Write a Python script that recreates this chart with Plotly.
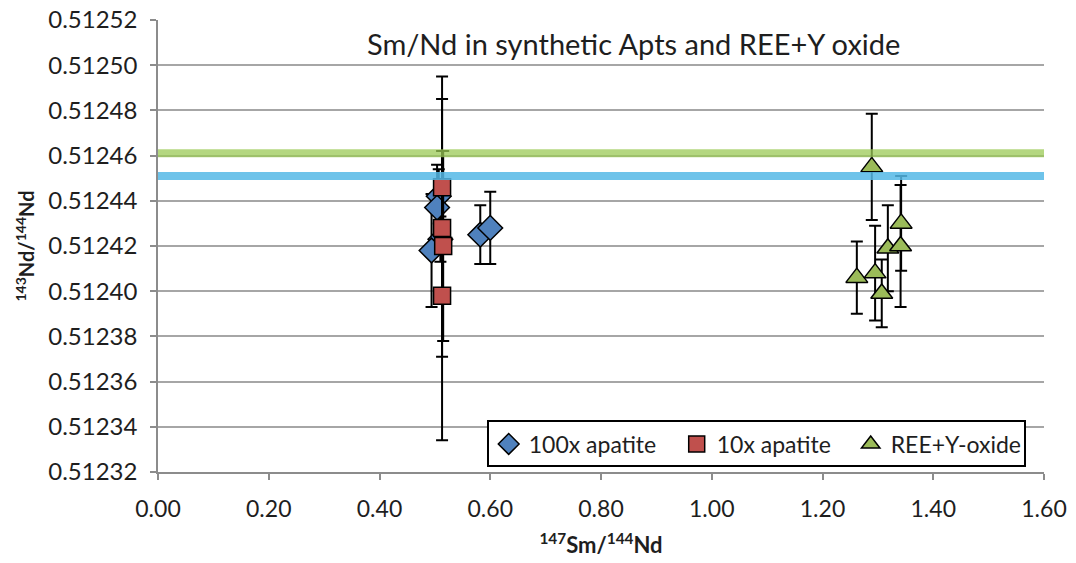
import plotly.graph_objects as go

# 100x apatite (diamonds)
apt100_x = [0.507, 0.504, 0.510, 0.494, 0.582, 0.600]
apt100_y = [0.512442, 0.512437, 0.512423, 0.512418, 0.512425, 0.512428]
apt100_err = [0.000012, 0.000019, 0.000010, 0.000025, 0.000013, 0.000016]

# 10x apatite (squares)
apt10_x = [0.513, 0.513, 0.515, 0.513]
apt10_y = [0.512446, 0.512428, 0.512420, 0.512398]
apt10_err = [0.000049, 0.000057, 0.000042, 0.000064]

# REE+Y oxide (triangles)
ree_x = [1.289, 1.262, 1.295, 1.307, 1.318, 1.342, 1.341]
ree_y = [0.512455, 0.512406, 0.512408, 0.512399, 0.512419, 0.512430, 0.512420]
ree_err = [0.0000235, 0.000016, 0.000021, 0.000015, 0.000019, 0.000021, 0.000027]

# Reference ratio lines
line_x = [0.0, 1.6]
green_ref = 0.512461
blue_ref = 0.512451

FONT = "Lato"
TXT = "#1e1e1e"
err_style = dict(type="data", visible=True, color="black", thickness=2, width=6)

fig = go.Figure()

fig.add_trace(go.Scatter(
    x=apt100_x, y=apt100_y, mode="markers", name="100x apatite",
    legendwidth=143,
    marker=dict(symbol="diamond", size=19, color="#4F81BD",
                line=dict(color="black", width=1.5)),
    error_y=dict(array=apt100_err, **err_style),
))
fig.add_trace(go.Scatter(
    x=apt10_x, y=apt10_y, mode="markers", name="10x apatite",
    legendwidth=129,
    marker=dict(symbol="square", size=17, color="#C0504D",
                line=dict(color="black", width=1.5)),
    error_y=dict(array=apt10_err, **err_style),
))
fig.add_trace(go.Scatter(
    x=ree_x, y=ree_y, mode="markers", name="REE+Y-oxide",
    legendwidth=128,
    marker=dict(symbol="triangle-up", size=19, color="#9BBB59",
                line=dict(color="black", width=1.5)),
    error_y=dict(array=ree_err, **err_style),
))

fig.add_trace(go.Scatter(
    x=line_x, y=[green_ref, green_ref], mode="lines", showlegend=False,
    line=dict(color="rgba(155,202,85,0.75)", width=8), hoverinfo="skip",
))
fig.add_trace(go.Scatter(
    x=line_x, y=[blue_ref, blue_ref], mode="lines", showlegend=False,
    line=dict(color="rgba(85,185,230,0.85)", width=8), hoverinfo="skip",
))

fig.add_annotation(
    x=0.537, y=0.947, xref="paper", yref="paper", yanchor="middle",
    text="Sm/Nd in synthetic Apts and REE+Y oxide", showarrow=False,
    font=dict(family=FONT, size=29, color=TXT),
)

fig.update_layout(
    width=1076, height=563,
    margin=dict(l=158, r=32, t=20, b=91),
    paper_bgcolor="white", plot_bgcolor="white",
    font=dict(family=FONT, color=TXT),
    showlegend=True,
    legend=dict(
        orientation="h", x=0.371, y=0.01, xanchor="left", yanchor="bottom",
        bgcolor="white", bordercolor="black", borderwidth=2,
        font=dict(family=FONT, size=23, color=TXT),
        itemwidth=30,
    ),
)

fig.update_xaxes(
    range=[0, 1.6], dtick=0.2, tickformat=".2f", automargin=False,
    showgrid=False, zeroline=False,
    showline=True, linecolor="#8c8c8c", linewidth=1.5,
    ticks="outside", ticklen=6, tickcolor="#8c8c8c", tickwidth=1.5,
    ticklabelstandoff=10,
    tickfont=dict(family=FONT, size=23, color=TXT),
    title=dict(text="<b><sup>147</sup>Sm/<sup>144</sup>Nd</b>",
               font=dict(family=FONT, size=22, color=TXT), standoff=16),
)
fig.update_yaxes(
    range=[0.51232, 0.51252], dtick=0.00002, tickformat=".5f", automargin=False,
    showgrid=True, gridcolor="#a6a6a6", gridwidth=1.5, zeroline=False,
    showline=True, linecolor="#8c8c8c", linewidth=1.5,
    ticks="outside", ticklen=6, tickcolor="#8c8c8c", tickwidth=1.5,
    ticklabelstandoff=8,
    tickfont=dict(family=FONT, size=24, color=TXT),
    title=dict(text="<b><sup>143</sup>Nd/<sup>144</sup>Nd</b>",
               font=dict(family=FONT, size=20, color=TXT), standoff=8),
)

fig.write_html("out.html")
